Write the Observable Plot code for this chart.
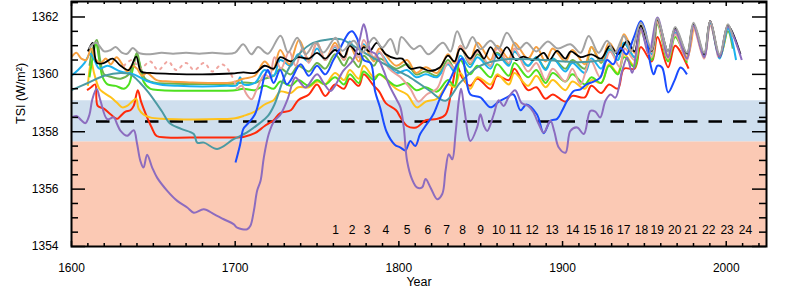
<!DOCTYPE html>
<html><head><meta charset="utf-8">
<script src="https://cdn.jsdelivr.net/npm/d3@7"></script>
<script src="https://cdn.jsdelivr.net/npm/@observablehq/plot@0.6"></script>
<style>
body{margin:0;background:#fff;}
#chart svg{display:block;}
</style>
</head><body><div id="chart"></div>
<script>
// ---------- data ----------
const cycleNumbers = [1,2,3,4,5,6,7,8,9,10,11,12,13,14,15,16,17,18,19,20,21,22,23,24];
const cycleYears = [1761.3,1771.5,1780.6,1792.0,1805.1,1817.7,1829.1,1838.9,1849.9,1861.0,1871.2,1881.4,1893.6,1906.2,1916.6,1926.8,1937.4,1948.2,1957.8,1968.5,1978.5,1989.3,2000.5,2011.7];
const yMajor = [1354,1356,1358,1360,1362];
const yMinor = [1354.5,1355,1355.5,1356.5,1357,1357.5,1358.5,1359,1359.5,1360.5,1361,1361.5,1362.5];
const xMajor = [1600,1700,1800,1900,2000];
const xMinor = [1610,1620,1630,1640,1650,1660,1670,1680,1690,1710,1720,1730,1740,1750,1760,1770,1780,1790,1810,1820,1830,1840,1850,1860,1870,1880,1890,1910,1920,1930,1940,1950,1960,1970,1980,1990,2010,2020];
const salmonBand = [1354, 1357.65];
const blueBand = [1357.65, 1359.08];
const refLevel = 1358.36;

const gray = [[1610.5,1360.9],[1615,1361.1],[1620,1360.8],[1624,1360.85],[1627,1360.95],[1631,1360.75],[1634,1360.72],[1637.5,1360.92],[1641,1360.75],[1648,1360.7],[1655,1360.75],[1662,1360.72],[1670,1360.75],[1678,1360.72],[1686,1360.75],[1694,1360.72],[1700,1360.76],[1704.9,1361.05],[1709.9,1360.7],[1714,1360.95],[1720,1360.72],[1727.7,1361.35],[1732.3,1360.76],[1737.9,1361.28],[1743,1360.7],[1749,1361.1],[1754,1360.76],[1761.3,1361.28],[1765.4,1360.82],[1772.5,1361.17],[1777.6,1360.76],[1784.7,1361.28],[1789.8,1360.93],[1794.9,1361.23],[1799,1360.7],[1801.5,1361.3],[1809,1360.88],[1813,1361.0],[1818,1360.7],[1827,1361.1],[1831.5,1360.8],[1835.6,1361.5],[1840.7,1360.9],[1845,1361.3],[1849.8,1360.88],[1856,1361.17],[1861,1360.9],[1866,1361.45],[1873,1360.88],[1878,1361.1],[1884,1360.8],[1891,1361.15],[1897,1360.9],[1904.8,1361.05],[1911,1360.75],[1916,1361.34],[1922,1360.75],[1927.2,1361.17],[1932,1360.75],[1937.4,1361.34],[1942,1360.8],[1947.8,1361.8],[1954.5,1360.85],[1958,1361.95],[1964.5,1360.8],[1968.8,1361.65],[1976,1360.75],[1980,1361.8],[1986.5,1360.75],[1990.2,1361.85],[1996,1360.7],[2001,1361.75],[2004,1361.3]];

const black = [[1610,1360.8],[1613,1361.1],[1615.5,1360.4],[1620,1360.4],[1625,1360.55],[1630,1360.3],[1635,1360.15],[1639.5,1360.62],[1642.5,1360.1],[1648,1360.05],[1660,1360.02],[1680,1360.0],[1698,1360.03],[1705,1360.07],[1712,1360.05],[1718,1360.3],[1723.5,1360.2],[1727.5,1360.6],[1734,1360.45],[1738.5,1360.6],[1745,1360.55],[1750,1360.75],[1755,1360.55],[1761,1360.85],[1766.5,1360.6],[1770,1361.0],[1775.5,1360.7],[1778.5,1360.95],[1782,1360.8],[1786.5,1361.1],[1792,1360.7],[1798.3,1360.55],[1802,1360.55],[1807,1360.2],[1813,1360.24],[1819,1360.12],[1825,1360.24],[1830,1360.65],[1834,1360.45],[1837.5,1360.9],[1843.5,1360.55],[1848,1360.85],[1852,1360.55],[1856,1360.95],[1861,1360.55],[1866,1360.95],[1871.5,1360.5],[1876,1360.62],[1882,1360.5],[1888.5,1360.75],[1892,1360.5],[1896.7,1360.82],[1901.7,1360.55],[1905,1360.8],[1911,1360.6],[1917.6,1360.7],[1923.6,1360.55],[1929,1361.0],[1933.8,1360.7],[1939.5,1361.17],[1944,1360.8],[1947.8,1361.7],[1954.5,1360.82],[1958,1361.92],[1964.5,1360.8],[1968.8,1361.6],[1976,1360.72],[1980,1361.75],[1986.5,1360.7],[1990.2,1361.86],[1996,1360.6],[2001,1361.7],[2008.7,1360.7]];

const orange = [[1600,1360.6],[1603,1360.75],[1606,1360.55],[1609,1360.5],[1612,1360.9],[1615,1360.5],[1618,1360.4],[1621,1360.55],[1624,1360.35],[1627.5,1360.6],[1631,1360.35],[1634,1360.1],[1637,1360.3],[1640,1360.2],[1643,1359.95],[1646,1360.05],[1652,1359.8],[1660,1359.75],[1672,1359.72],[1686,1359.7],[1698,1359.72],[1705,1359.85],[1712,1359.95],[1718,1360.45],[1723,1360.15],[1727.5,1360.85],[1733,1360.35],[1739,1361.2],[1745,1360.5],[1750,1361.1],[1755,1360.5],[1761,1361.1],[1766.5,1360.5],[1770,1361.0],[1775.5,1360.45],[1778.5,1361.0],[1784.7,1360.45],[1788,1360.9],[1798.3,1360.3],[1805,1360.5],[1810.6,1360.05],[1816.5,1360.25],[1823.3,1360.05],[1830,1360.7],[1834,1360.4],[1837.5,1361.0],[1843.5,1360.5],[1848,1361.1],[1856,1360.5],[1860,1361.0],[1867.2,1360.55],[1870.6,1361.1],[1878.9,1360.55],[1884,1360.95],[1889.6,1360.45],[1894,1360.9],[1901.7,1360.45],[1906,1360.85],[1913.6,1360.35],[1917.6,1360.95],[1923.6,1360.45],[1928.4,1361.1],[1933.8,1360.7],[1937.5,1361.4],[1944,1360.75],[1947.8,1361.7],[1954.5,1360.8],[1958,1361.85],[1964.5,1360.65],[1968.8,1361.55],[1976,1360.6],[1980,1361.7]];

const lightBlue = [[1600,1359.95],[1604,1360.15],[1608,1360.4],[1611.5,1360.72],[1614,1360.5],[1617,1360.2],[1622,1360.3],[1630,1360.1],[1638,1360.0],[1646,1359.77],[1654,1359.65],[1665,1359.6],[1680,1359.58],[1695,1359.6],[1701,1359.62],[1703,1359.9],[1705,1359.65],[1712,1359.7],[1718,1360.15],[1723.5,1359.95],[1727.5,1360.5],[1734,1360.3],[1738.5,1360.7],[1745,1360.45],[1750,1360.9],[1755,1360.5],[1761,1360.95],[1766.5,1360.5],[1770,1361.15],[1775.5,1360.6],[1778.5,1361.05],[1784.7,1360.5],[1788,1360.75],[1798.3,1360.05],[1805,1360.15],[1810.6,1359.9],[1816.5,1360.0],[1823.3,1359.9],[1830,1360.35],[1834,1360.1],[1837.5,1360.65],[1843.5,1360.25],[1848,1360.6],[1856,1360.2],[1860,1360.7],[1867.2,1360.3],[1870.6,1360.8],[1878.9,1360.3],[1884,1360.6],[1889.6,1360.15],[1894,1360.55],[1901.7,1360.1],[1906,1360.4],[1913.6,1360.05],[1917.6,1360.55],[1923.6,1360.2],[1928.4,1360.85],[1933.8,1360.5],[1937.5,1361.1],[1944,1360.6],[1947.8,1361.7],[1954.5,1360.7],[1958,1361.85],[1964.5,1360.6],[1968.8,1361.45],[1976,1360.55],[1980,1361.7],[1986.5,1360.6],[1990.2,1361.8],[1996,1360.55],[2001,1361.6],[2006,1360.5]];

const greenBright = [[1611,1359.9],[1613,1360.6],[1615,1361.1],[1617,1360.5],[1619,1359.9],[1622,1359.65],[1627,1359.6],[1632,1359.5],[1635,1359.65],[1637.5,1360.2],[1639.7,1360.7],[1641.5,1360.4],[1644,1359.75],[1648,1359.5],[1655,1359.45],[1670,1359.43],[1690,1359.43],[1700,1359.45],[1705,1359.5],[1712,1359.45],[1718,1359.6],[1723.5,1359.5],[1727.5,1359.75],[1734,1359.6],[1738.5,1359.8],[1745,1359.6],[1750,1359.8],[1755,1359.65],[1761,1359.9],[1766.5,1359.65],[1770,1360.0],[1775.5,1359.7],[1778.5,1360.1],[1784.7,1359.8],[1788,1360.0],[1798.3,1359.6],[1805,1359.7],[1810.6,1359.45],[1816.5,1359.55],[1823.3,1359.4],[1830,1359.8],[1834,1359.6],[1837.5,1360.5],[1843.5,1360.0],[1848,1360.3],[1856,1359.9],[1860,1360.35],[1867.2,1359.95],[1870.6,1360.4],[1878.9,1359.9],[1884,1360.15],[1889.6,1359.7],[1894,1360.05],[1901.7,1359.75],[1906,1360.0],[1913.6,1359.65],[1917.6,1359.9],[1923.6,1359.7],[1928.4,1360.3],[1933.8,1360.0],[1937.5,1360.6],[1944,1360.25],[1947.8,1361.5],[1954.5,1360.5],[1958,1361.75],[1964.5,1360.45],[1968.8,1361.3],[1976,1360.4]];

const greenMid = [[1611,1360.3],[1613,1360.9],[1615.5,1361.2],[1617.5,1360.5],[1620,1360.0],[1625,1359.9],[1630,1359.85],[1635,1360.0],[1638,1360.4],[1640,1360.75],[1642,1360.3],[1645,1359.85],[1650,1359.72],[1660,1359.68],[1680,1359.66],[1700,1359.68],[1705,1359.72],[1712,1359.7],[1718,1359.85],[1723.5,1359.95],[1727.5,1360.2],[1734,1360.0],[1738.5,1360.3],[1745,1360.1],[1750,1360.4],[1755,1360.2],[1761,1360.7],[1766.5,1360.3],[1770,1360.6],[1775.5,1360.25],[1778.5,1360.65],[1784.7,1360.3],[1788,1360.55],[1798.3,1360.2],[1805,1360.35],[1810.6,1360.0],[1816.5,1360.1],[1823.3,1359.95],[1830,1360.5],[1834,1360.2],[1837.5,1361.0],[1843.5,1360.35],[1848,1360.7],[1856,1360.3],[1860,1360.75],[1867.2,1360.35],[1870.6,1360.8],[1878.9,1360.3],[1884,1360.6],[1889.6,1360.2],[1894,1360.55],[1901.7,1360.2],[1906,1360.5],[1913.6,1360.2],[1917.6,1360.95],[1923.6,1360.4],[1928.4,1360.9],[1933.8,1360.5],[1937.5,1361.1],[1944,1360.6],[1947.8,1361.7],[1954.5,1360.7],[1958,1361.85],[1964.5,1360.6],[1968.8,1361.45],[1976,1360.55],[1980,1361.7],[1986.5,1360.6],[1990.2,1361.8],[1996,1360.6],[2001,1361.5],[2004,1360.9]];

const yellow = [[1610,1359.6],[1612,1360.45],[1614,1360.0],[1617,1359.5],[1620,1359.35],[1624,1359.2],[1628,1359.0],[1631,1358.85],[1634,1358.9],[1637,1359.05],[1639.5,1359.15],[1641,1358.8],[1644,1358.6],[1648,1358.5],[1655,1358.45],[1670,1358.43],[1690,1358.44],[1700,1358.47],[1705,1358.55],[1712,1358.7],[1718,1358.95],[1723.5,1359.1],[1727.5,1359.4],[1734,1359.35],[1738.5,1359.55],[1745,1359.55],[1750,1359.75],[1755,1359.65],[1761,1360.05],[1766.5,1359.8],[1770,1360.15],[1775.5,1359.85],[1778.5,1360.3],[1784.7,1359.9],[1788,1360.0],[1798.3,1359.5],[1805,1359.3],[1811,1358.85],[1816.5,1359.05],[1823.3,1359.15],[1830,1359.65],[1834,1359.55],[1837.5,1360.05],[1843.5,1359.5],[1848,1359.9],[1856,1359.65],[1860,1360.0],[1867.2,1359.65],[1870.6,1360.05],[1878.9,1359.6],[1884,1359.95],[1889.6,1359.55],[1894,1359.8],[1901.7,1359.45],[1906,1359.75],[1913.6,1359.5],[1917.6,1359.8],[1923.6,1359.7],[1928.4,1360.35],[1933.8,1360.05],[1937.5,1360.7],[1944,1360.3],[1947.8,1361.6],[1954.5,1360.55],[1958,1361.85],[1964.5,1360.5],[1968.8,1361.6],[1976,1360.6],[1980,1361.75],[1986.5,1360.6],[1990.2,1361.85],[1996,1360.6],[2001,1361.75]];

const red = [[1609.5,1359.45],[1612,1359.55],[1614.5,1359.65],[1616,1358.9],[1620,1358.8],[1624,1358.6],[1628,1358.45],[1630,1358.55],[1633,1358.7],[1636,1358.75],[1638,1358.9],[1640.5,1359.45],[1642.5,1359.05],[1645.5,1358.6],[1649,1358.15],[1652,1357.85],[1658,1357.8],[1680,1357.8],[1700,1357.8],[1705,1357.82],[1712,1357.95],[1718,1358.2],[1723.5,1358.4],[1727.5,1358.65],[1734,1358.75],[1738.5,1359.1],[1745,1359.3],[1750,1359.65],[1755,1359.25],[1761,1359.65],[1766.5,1359.5],[1770,1359.85],[1775.5,1359.6],[1778.5,1360.0],[1784.7,1359.6],[1788,1359.4],[1792,1359.0],[1798.3,1358.75],[1801,1358.5],[1805,1358.2],[1810.6,1358.15],[1816.5,1358.4],[1823.3,1358.45],[1828.5,1358.6],[1832,1359.4],[1835.6,1360.3],[1838.5,1359.9],[1843.5,1359.6],[1848,1359.85],[1856,1359.5],[1860,1359.95],[1867.2,1359.8],[1870.6,1360.2],[1878.9,1359.45],[1884,1359.55],[1889.6,1359.15],[1894,1359.3],[1901.7,1359.05],[1906,1359.25],[1913.6,1359.2],[1917.6,1359.6],[1923.6,1359.35],[1928.4,1359.65],[1933.8,1359.5],[1937.5,1360.2],[1944,1360.2],[1947.8,1360.95],[1954.5,1360.45],[1958,1361.3],[1964.5,1360.25],[1968.8,1361.0],[1977,1360.2]];

const blue = [[1700.2,1356.93],[1703,1357.55],[1705,1358.1],[1708,1358.3],[1712,1358.6],[1715.5,1359.3],[1718,1359.95],[1720,1360.15],[1723.5,1359.7],[1727.5,1360.15],[1731.5,1359.65],[1734,1359.8],[1740,1360.35],[1745,1359.95],[1750,1360.3],[1755,1360.0],[1760,1360.5],[1764,1360.9],[1769.5,1361.45],[1771.5,1361.5],[1774.5,1361.25],[1778.5,1360.5],[1782.7,1360.4],[1785.5,1359.4],[1788.5,1358.85],[1792.5,1358.0],[1797.5,1357.55],[1801,1357.45],[1804,1357.35],[1807,1357.68],[1810,1357.5],[1813,1357.92],[1817,1358.26],[1821,1358.6],[1825.4,1359.2],[1831.5,1359.85],[1835.6,1360.35],[1838.7,1360.55],[1840.7,1360.05],[1843.7,1359.3],[1849.8,1359.2],[1856,1358.85],[1861,1359.05],[1866,1359.2],[1870,1359.3],[1874.3,1358.75],[1878,1358.95],[1884.4,1358.6],[1888.5,1357.95],[1892.6,1358.38],[1896.7,1358.45],[1899.7,1358.73],[1902.8,1359.08],[1906.8,1359.42],[1911,1359.48],[1915,1359.66],[1919,1359.75],[1923,1359.89],[1927.2,1360.5],[1931,1360.35],[1935.4,1360.93],[1939,1360.7],[1943.5,1361.28],[1947.8,1361.86],[1950.6,1361.5],[1953.7,1360.35],[1955.7,1360.0],[1958,1360.3],[1960.8,1360.24],[1964.5,1359.37],[1968.5,1359.8],[1972.1,1360.24],[1976,1360.0]];

const purple = [[1600,1358.5],[1603,1358.55],[1606,1358.4],[1608.5,1358.3],[1611,1358.6],[1612.6,1359.1],[1615.3,1359.5],[1617.7,1359.08],[1621.8,1358.44],[1625.8,1358.5],[1627.9,1358.26],[1630,1358.03],[1634,1357.86],[1638,1358.05],[1640,1357.6],[1642,1357.0],[1644,1356.75],[1646.2,1357.2],[1649.3,1356.75],[1652.3,1356.4],[1658.5,1355.94],[1664.6,1355.59],[1670.7,1355.36],[1674.7,1355.18],[1680.8,1355.3],[1687,1355.13],[1693,1354.95],[1699,1354.78],[1701.2,1354.66],[1707.3,1354.6],[1709.3,1354.72],[1711.4,1355.24],[1713.4,1355.94],[1715.5,1356.29],[1717.5,1357.1],[1720.5,1357.92],[1723.6,1358.35],[1727.7,1358.6],[1731.8,1359.1],[1736.8,1359.89],[1740,1359.7],[1743,1359.54],[1750,1360.0],[1754,1359.7],[1758.2,1359.42],[1761,1359.6],[1766,1360.12],[1772,1360.5],[1776,1361.2],[1778.5,1361.75],[1780,1361.5],[1782.7,1360.82],[1786,1360.7],[1790.8,1360.12],[1793.8,1359.66],[1799,1359.08],[1801,1358.84],[1803,1358.15],[1805,1356.99],[1808,1356.35],[1811,1356.06],[1814.2,1356.06],[1816.3,1356.35],[1819.3,1356.06],[1823.4,1355.65],[1826.5,1355.83],[1828.5,1356.64],[1830.5,1357.22],[1832.6,1357.04],[1834.6,1357.92],[1836.6,1359.08],[1838,1359.5],[1840,1358.8],[1843.7,1357.68],[1847.8,1358.15],[1849.8,1358.61],[1852,1358.2],[1854,1358.03],[1858,1358.61],[1861,1359.1],[1864,1358.9],[1867,1359.2],[1871,1359.45],[1875,1359.0],[1879,1358.9],[1882,1358.7],[1885.5,1358.26],[1888.5,1357.97],[1892.6,1358.38],[1895,1358.0],[1897.7,1357.45],[1901.8,1357.27],[1904.8,1358.03],[1908.9,1358.15],[1913,1357.92],[1917,1358.73],[1920,1358.7],[1923,1358.5],[1926.2,1359.08],[1929.3,1359.3],[1932.3,1359.19],[1936.4,1360.12],[1939.5,1360.58],[1942.5,1360.06],[1947.8,1361.6],[1952.6,1360.7],[1958,1361.98],[1964.5,1360.6],[1968.8,1361.55],[1976,1360.55],[1980,1361.7],[1986.5,1360.6],[1990.2,1361.85],[1996,1360.6],[2001,1361.65],[2009.5,1360.5]];

const pinkEarly = [[1632,1360.3],[1637,1360.5],[1642,1360.2],[1648,1360.45],[1653,1360.15],[1659,1360.45],[1664,1360.15],[1670,1360.4],[1675,1360.15],[1681,1360.4],[1686,1360.1],[1692,1360.35],[1697,1360.05],[1701,1359.5]];

const pink = [[1701,1359.48],[1704,1359.6],[1707,1359.3],[1710,1359.13],[1713,1359.45],[1718,1360.0],[1721,1359.9],[1724,1360.6],[1728,1360.2],[1733,1360.8],[1737,1360.3],[1741,1360.9],[1745,1360.4],[1750,1361.1],[1755,1360.5],[1761,1361.0],[1766.5,1360.5],[1770,1361.1],[1775.5,1360.6],[1778.5,1361.2],[1784.7,1360.6],[1788,1360.8],[1794,1360.2],[1801,1359.9],[1807,1359.5],[1812,1359.05],[1817,1359.3],[1823.3,1359.5],[1830,1360.4],[1834,1360.2],[1837.5,1361.0],[1843.5,1360.4],[1848,1360.8],[1856,1360.3],[1860,1360.9],[1867.2,1360.4],[1870.6,1360.9],[1878.9,1360.1],[1884,1360.4],[1889.6,1359.8],[1894,1360.2],[1901.7,1359.75],[1906,1360.2],[1911,1359.65],[1917,1360.5],[1923,1359.9],[1929,1360.8],[1935,1360.25],[1938,1360.9],[1944,1360.5],[1947.8,1361.5],[1954.5,1360.6],[1958,1361.8],[1964.5,1360.55],[1968.8,1361.4],[1976,1360.5],[1980,1361.6],[1986.5,1360.55],[1990.2,1361.7],[1995,1360.6]];

const teal = [[1600,1359.45],[1610,1359.7],[1620,1359.95],[1630,1360.05],[1636,1360.0],[1642,1359.7],[1647,1359.37],[1655,1358.73],[1660,1358.3],[1667,1358.1],[1674.7,1357.92],[1676.8,1357.62],[1681,1357.62],[1689,1357.4],[1699,1357.74],[1707,1357.97],[1715,1358.3],[1720,1358.55],[1724,1358.95],[1730,1359.9],[1736,1360.5],[1746,1361.05],[1755,1361.2],[1765,1361.22],[1772,1361.0],[1782,1360.65],[1795,1360.24],[1807,1359.89],[1819,1359.42],[1828.5,1359.08],[1837.6,1359.72],[1847.8,1360.24],[1857,1360.45],[1866,1360.53],[1880,1360.53],[1896.7,1360.47],[1910,1360.42],[1925,1360.5]];

// ---------- drawing ----------
const series = [
  {data: red, color: "#ff2a0a"},
  {data: yellow, color: "#ffc21a"},
  {data: greenBright, color: "#4ee01e"},
  {data: greenMid, color: "#6cb24c"},
  {data: lightBlue, color: "#1ab2ef"},
  {data: orange, color: "#f7a040"},
  {data: pinkEarly, color: "#f0a6a0", dash: "2,5"},
  {data: pink, color: "#e9a19b"},
  {data: black, color: "#000000", width: 1.8},
  {data: teal, color: "#4b9aa3"},
  {data: blue, color: "#1a4cff"},
  {data: purple, color: "#8c6cbf"},
  {data: gray, color: "#a3a3a3"}
];

const W = 789, H = 294, mL = 71, mR = 23, mT = 1, mB = 48;
const fw = W - mL - mR, fh = H - mT - mB;
const xDomain = [1600, 2024.6];
const yDomain = [1354, 1362.54];

const marks = [
  Plot.rect([0], {x1: xDomain[0], x2: xDomain[1], y1: salmonBand[0], y2: salmonBand[1], fill: "#fbc9b4"}),
  Plot.rect([0], {x1: xDomain[0], x2: xDomain[1], y1: blueBand[0], y2: blueBand[1], fill: "#cfdfee"}),
  Plot.ruleY([refLevel], {stroke: "#000", strokeWidth: 2.5, strokeDasharray: "13.5,11", insetLeft: 25}),
  ...series.map(s => Plot.line(s.data, {x: d => d[0], y: d => d[1], stroke: s.color, strokeWidth: s.width || 2, curve: "catmull-rom", strokeDasharray: s.dash || null, strokeLinecap: s.dash ? "round" : null})),
  Plot.text(cycleNumbers, {x: (d, i) => cycleYears[i], y: 1354.56, text: d => String(d), fontSize: 12, fill: "#000"}),
  // inward ticks
  Plot.ruleY(yMajor, {insetRight: fw - 14, stroke: "#000", strokeWidth: 1.5}),
  Plot.ruleY(yMinor, {insetRight: fw - 7, stroke: "#000", strokeWidth: 1.5}),
  Plot.ruleY(yMajor, {insetLeft: fw - 14, stroke: "#000", strokeWidth: 1.5}),
  Plot.ruleY(yMinor, {insetLeft: fw - 7, stroke: "#000", strokeWidth: 1.5}),
  Plot.ruleX(xMajor, {insetTop: fh - 5, stroke: "#000", strokeWidth: 1.5}),
  Plot.ruleX(xMinor, {insetTop: fh - 3, stroke: "#000", strokeWidth: 1.5}),
  Plot.ruleX(xMajor, {insetBottom: fh - 5, stroke: "#000", strokeWidth: 1.5}),
  Plot.ruleX(xMinor, {insetBottom: fh - 3, stroke: "#000", strokeWidth: 1.5}),
  Plot.frame({stroke: "#000", strokeWidth: 2}),
  Plot.axisY(yMajor, {anchor: "left", tickSize: 0, tickPadding: 13, tickFormat: d3.format("d"), label: null, fontSize: 12, fill: "#000"}),
  Plot.axisX(xMajor, {anchor: "bottom", tickSize: 0, tickPadding: 17, tickFormat: d3.format("d"), label: null, fontSize: 12, fill: "#000"}),
  Plot.text(["TSI (W/m²)"], {frameAnchor: "left", dx: -51, rotate: -90, fontSize: 12.5, fill: "#000"}),
  Plot.text(["Year"], {frameAnchor: "bottom", dy: 39, fontSize: 12.5, fill: "#000"})
];

const chart = Plot.plot({
  width: W, height: H,
  marginLeft: mL, marginRight: mR, marginTop: mT, marginBottom: mB,
  x: {domain: xDomain},
  y: {domain: yDomain},
  style: {fontFamily: "'Liberation Sans', Arial, Helvetica, sans-serif", fontSize: "12px", background: "#fff", color: "#000"},
  marks
});
document.getElementById("chart").appendChild(chart);
</script>
</body></html>
